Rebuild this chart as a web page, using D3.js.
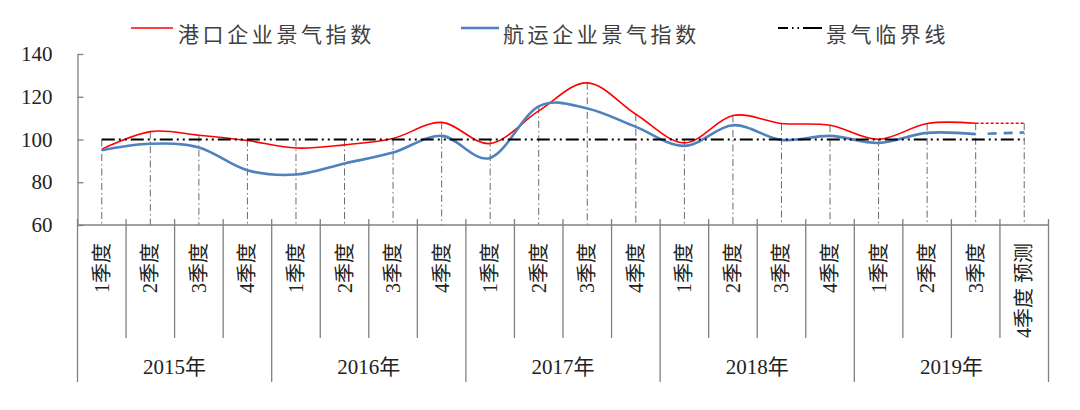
<!DOCTYPE html>
<html>
<head>
<meta charset="utf-8">
<script src="https://cdn.jsdelivr.net/npm/d3@7"></script>
<style>
  html, body { margin: 0; padding: 0; background: #fff; }
  svg { display: block; }
</style>
</head>
<body>
<svg id="chart" width="1080" height="410"></svg>
<script>
// ---- data ----
const years = ["2015年", "2016年", "2017年", "2018年", "2019年"];
const quarters = ["1季度", "2季度", "3季度", "4季度"];
const lastQuarterLabel = "4季度 预测";
const portIndex = [95.5, 103.7, 102, 99.5, 96, 97.5, 100.5, 108, 98.1, 113.4, 126.5, 111.8, 98.4, 111.2, 107.5, 106.7, 100.1, 107.5, 107.6, 107.6];
const shipIndex = [95, 98, 96.3, 85.6, 83.6, 88.8, 93.9, 101.7, 91.4, 115.5, 114.5, 105.9, 97, 106.7, 99.8, 101.7, 98.4, 103.1, 102.5, 103.3];
const thresholdValue = 100;
const yTicks = [60, 80, 100, 120, 140];
const legendLabels = ["港口企业景气指数", "航运企业景气指数", "景气临界线"];

// categories built from years × quarters
const categories = [];
years.forEach((yr, yi) => quarters.forEach((q, qi) => {
  const isLast = yi === years.length - 1 && qi === quarters.length - 1;
  categories.push({ key: yr + q, year: yr, label: isLast ? lastQuarterLabel : q });
}));
const data = categories.map((c, i) => ({ ...c, port: portIndex[i], ship: shipIndex[i] }));

// ---- layout ----
const svg = d3.select("#chart");
const plotLeft = 77.5, plotRight = 1048.5, plotTop = 54, plotBottom = 225;
const numFont = "'Liberation Serif', 'Times New Roman', 'Noto Sans CJK SC', serif";
const axisColor = "#808080";

const x = d3.scaleBand().domain(data.map(d => d.key)).range([plotLeft, plotRight]).padding(0);
const y = d3.scaleLinear().domain([60, 140]).range([plotBottom, plotTop]);
const cx = d => x(d.key) + x.bandwidth() / 2;

// ---- drop lines ----
svg.append("g").selectAll("line").data(data).join("line")
  .attr("x1", cx).attr("x2", cx)
  .attr("y1", d => y(Math.max(d.port, d.ship, thresholdValue)))
  .attr("y2", plotBottom)
  .attr("stroke", "#6a6a6a").attr("stroke-width", 1)
  .attr("stroke-dasharray", "7,3,1.5,3");

// ---- y axis ----
const yAxis = svg.append("g").attr("transform", `translate(${plotLeft},0)`)
  .call(d3.axisLeft(y).tickValues(yTicks).tickSizeInner(-6).tickSizeOuter(0).tickPadding(25));
yAxis.select(".domain").attr("stroke", axisColor).attr("stroke-width", 1.3);
yAxis.selectAll(".tick line").attr("stroke", axisColor).attr("stroke-width", 1.3);
yAxis.selectAll(".tick text").attr("font-family", numFont).attr("font-size", 21).attr("fill", "#222");

// ---- x axis (custom multi-level) ----
const xg = svg.append("g");
xg.append("line").attr("x1", plotLeft).attr("x2", plotRight).attr("y1", plotBottom).attr("y2", plotBottom)
  .attr("stroke", axisColor).attr("stroke-width", 1.3);
const boundaries = data.map((d, i) => ({ x: x(d.key), i })).concat([{ x: plotRight, i: data.length }]);
xg.selectAll("line.tick").data(boundaries).join("line").attr("class", "tick")
  .attr("x1", d => d.x).attr("x2", d => d.x).attr("y1", plotBottom - 6).attr("y2", plotBottom)
  .attr("stroke", axisColor).attr("stroke-width", 1.3);
xg.selectAll("line.sep").data(boundaries).join("line").attr("class", "sep")
  .attr("x1", d => d.x).attr("x2", d => d.x).attr("y1", plotBottom)
  .attr("y2", d => d.i % quarters.length === 0 ? 382 : 338)
  .attr("stroke", axisColor).attr("stroke-width", 1.3);
xg.selectAll("text.q").data(data).join("text").attr("class", "q")
  .attr("transform", d => `translate(${cx(d)},243) rotate(-90)`)
  .attr("text-anchor", "end").attr("dy", "0.35em")
  .attr("font-family", numFont).attr("font-size", 20).attr("fill", "#222")
  .text(d => d.label);
const yearScale = d3.scaleBand().domain(years).range([plotLeft, plotRight]);
xg.selectAll("text.y").data(years).join("text").attr("class", "y")
  .attr("x", d => yearScale(d) + yearScale.bandwidth() / 2).attr("y", 374)
  .attr("text-anchor", "middle")
  .attr("font-family", numFont).attr("font-size", 21).attr("fill", "#222")
  .text(d => d);

// ---- lines ----
const curve = d3.curveCatmullRom.alpha(0);
const solid = data.slice(0, data.length - 1);
const forecast = data.slice(data.length - 2);
const lineGen = key => d3.line().x(cx).y(d => y(d[key])).curve(curve);

svg.append("path").datum(solid).attr("d", lineGen("port"))
  .attr("fill", "none").attr("stroke", "#ff0000").attr("stroke-width", 1.6);
svg.append("path").datum(forecast).attr("d", lineGen("port"))
  .attr("fill", "none").attr("stroke", "#ff0000").attr("stroke-width", 1.6).attr("stroke-dasharray", "3,2");

svg.append("path").datum(solid).attr("d", lineGen("ship"))
  .attr("fill", "none").attr("stroke", "#4f81bd").attr("stroke-width", 2.6);
svg.append("path").datum(forecast).attr("d", lineGen("ship"))
  .attr("fill", "none").attr("stroke", "#4f81bd").attr("stroke-width", 2.6).attr("stroke-dasharray", "0,12,9,7,9,7,9,7");

svg.append("line")
  .attr("x1", cx(data[0])).attr("x2", cx(data[data.length - 1]))
  .attr("y1", y(thresholdValue)).attr("y2", y(thresholdValue))
  .attr("stroke", "#000").attr("stroke-width", 2)
  .attr("stroke-dasharray", "13,4,2,4,2,4");

// ---- legend ----
const legend = [
  { label: legendLabels[0], x1: 131, x2: 173, tx: 178, color: "#ff0000", w: 1.6, dash: null },
  { label: legendLabels[1], x1: 461, x2: 499, tx: 503, color: "#4f81bd", w: 2.6, dash: null },
  { label: legendLabels[2], x1: 778, x2: 822, tx: 826, color: "#000", w: 2, dash: "10,4,1.5,4,1.5,4,30" }
];
const lg = svg.append("g");
legend.forEach(l => {
  lg.append("line").attr("x1", l.x1).attr("x2", l.x2).attr("y1", 28).attr("y2", 28)
    .attr("stroke", l.color).attr("stroke-width", l.w).attr("stroke-dasharray", l.dash);
  lg.append("text").attr("x", l.tx).attr("y", 42)
    .attr("font-family", "'Noto Sans CJK SC', sans-serif").attr("font-size", 21)
    .attr("letter-spacing", "3.6px").attr("fill", "#404040").text(l.label);
});
</script>
</body>
</html>
